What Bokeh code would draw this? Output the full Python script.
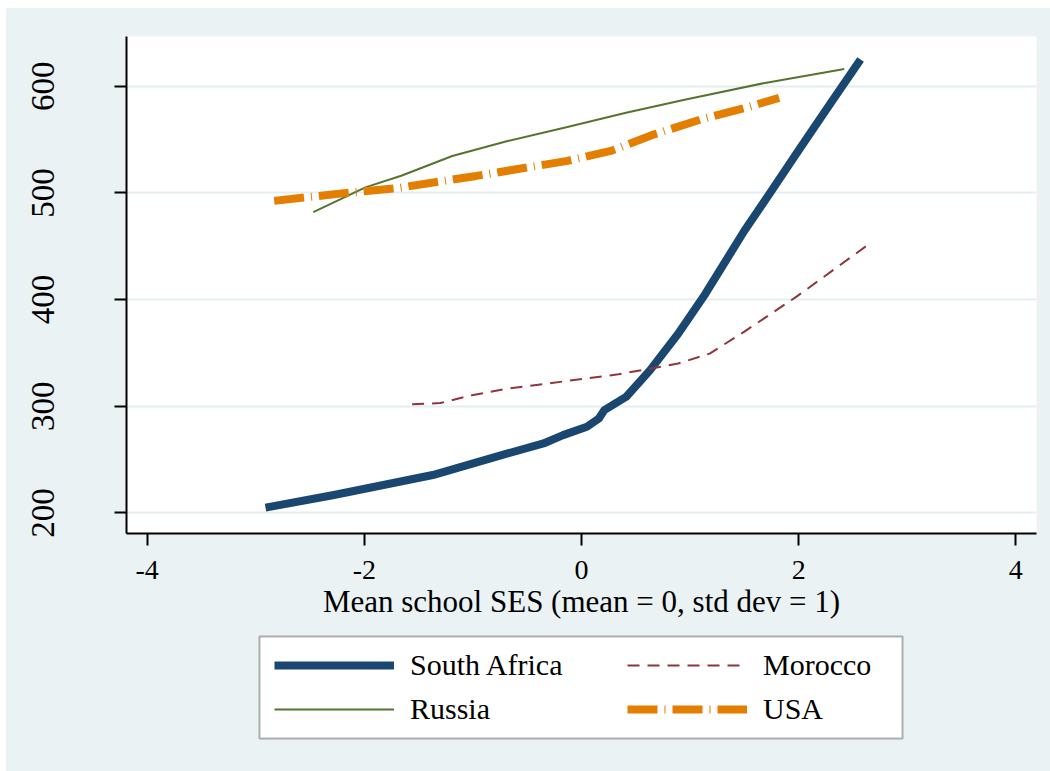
from bokeh.plotting import figure
from bokeh.layouts import column
from bokeh.models import Range1d, Legend, LegendItem, FixedTicker, BoxAnnotation
from bokeh.embed import file_html
from bokeh.resources import INLINE

# Fitted achievement curves by mean school SES
sa_x = [-2.91, -2.28, -1.37, -0.68, -0.35, -0.17, 0.05, 0.16, 0.21, 0.41, 0.63, 0.89, 1.14, 1.50, 1.75, 2.00, 2.30, 2.57]
sa_y = [205.0, 216.8, 235.5, 255.8, 265.1, 272.9, 280.7, 288.5, 296.3, 308.7, 333.6, 368.0, 405.3, 464.5, 502.0, 540.0, 585.0, 625.0]

ma_x = [-1.56, -1.30, -1.01, -0.68, -0.13, 0.34, 0.89, 1.18, 1.50, 1.98, 2.62]
ma_y = [301.9, 303.0, 310.3, 316.6, 323.7, 330.0, 340.0, 349.3, 370.0, 402.7, 450.0]

ru_x = [-2.47, -1.99, -1.66, -1.19, -0.68, -0.13, 0.41, 0.96, 1.69, 2.42]
ru_y = [481.9, 505.2, 516.1, 534.6, 548.6, 561.7, 575.1, 587.6, 603.1, 616.2]

us_x = [-2.83, -2.14, -1.70, -0.97, -0.13, 0.27, 0.67, 1.10, 1.51, 1.82]
us_y = [492.5, 500.3, 504.4, 515.9, 530.0, 539.3, 554.9, 568.9, 579.7, 589.1]

countries = ["South Africa", "Russia", "Morocco", "USA"]
x_ticks = [-4, -2, 0, 2, 4]
y_ticks = [200, 300, 400, 500, 600]

BG = "#EAF2F3"
FONT = "Liberation Serif"

STYLES = {
    "South Africa": dict(line_color="#1A476F", line_width=8, line_join="round"),
    "Morocco": dict(line_color="#90353B", line_width=2, line_dash="12 8"),
    "Russia": dict(line_color="#55752F", line_width=2, line_join="round"),
    "USA": dict(line_color="#E37E00", line_width=8, line_dash="30 7 1 7"),
}
series = {
    "South Africa": (sa_x, sa_y),
    "Morocco": (ma_x, ma_y),
    "Russia": (ru_x, ru_y),
    "USA": (us_x, us_y),
}

p = figure(
    width=1044, height=625,
    x_range=Range1d(-4.19, 4.19), y_range=Range1d(180.7, 646.6),
    output_backend="svg", toolbar_location=None,
    min_border_left=120, min_border_right=14,
    min_border_top=28, min_border_bottom=100,
)
p.background_fill_color = "white"
p.border_fill_color = BG
p.outline_line_color = None

# axes
p.xaxis.ticker = FixedTicker(ticks=x_ticks)
p.yaxis.ticker = FixedTicker(ticks=y_ticks)
for ax in (p.xaxis[0], p.yaxis[0]):
    ax.axis_line_color = "black"
    ax.axis_line_width = 2
    ax.major_tick_line_color = "black"
    ax.major_tick_line_width = 2
    ax.major_tick_in = 0
    ax.major_tick_out = 12
    ax.minor_tick_line_color = None
    ax.major_label_text_font = FONT
    ax.major_label_text_color = "black"
p.xaxis.major_label_text_font_size = "28px"
p.xaxis.major_label_standoff = 15
p.xaxis.major_label_overrides = {-4: "-4", -2: "-2", 0: "0", 2: "2", 4: "4"}
p.xaxis.axis_label = "Mean school SES (mean = 0, std dev = 1)"
p.xaxis.axis_label_text_font = FONT
p.xaxis.axis_label_text_font_size = "31px"
p.xaxis.axis_label_text_font_style = "normal"
p.xaxis.axis_label_text_color = "black"
p.xaxis.axis_label_standoff = 2
p.yaxis.major_label_text_font_size = "33px"
p.yaxis.major_label_orientation = "vertical"
p.yaxis.major_label_standoff = 60

p.xgrid.grid_line_color = None
p.ygrid.ticker = FixedTicker(ticks=y_ticks)
p.ygrid.grid_line_color = "#E4EDEF"
p.ygrid.grid_line_width = 2

for name, (xs, ys) in series.items():
    p.line(xs, ys, **STYLES[name])

# key panel below the chart; its frame lines up with the chart frame
k = figure(
    width=1044, height=138,
    x_range=Range1d(100, 101), y_range=Range1d(100, 101),
    x_axis_type=None, y_axis_type=None,
    output_backend="svg", toolbar_location=None,
    min_border_left=120, min_border_right=14,
    min_border_top=0, min_border_bottom=0,
)
k.background_fill_color = BG
k.border_fill_color = BG
k.outline_line_color = None
k.xgrid.grid_line_color = None
k.ygrid.grid_line_color = None

k.add_layout(BoxAnnotation(
    left=133, right=776, bottom=33, top=135,
    left_units="screen", right_units="screen",
    bottom_units="screen", top_units="screen",
    fill_color="white", fill_alpha=1.0,
    line_color="black", line_width=2,
))

items = []
for name in countries:
    xs, ys = series[name]
    r = k.line(xs, ys, **STYLES[name])
    items.append(LegendItem(label=name, renderers=[r]))

legend = Legend(
    items=items,
    orientation="vertical", ncols=2,
    location=(148, 45),
    glyph_width=120, glyph_height=30,
    label_height=30, label_width=207,
    label_standoff=16, padding=15, spacing=10, margin=0,
    label_text_font=FONT, label_text_font_size="30px",
    label_text_color="black",
    border_line_color=None,
    background_fill_alpha=0.0,
)
k.add_layout(legend, "center")

layout = column(p, k, spacing=0)
layout.margin = (8, 0, 0, 6)
layout.styles = {"background-color": BG}
open("out.html", "w").write(file_html(layout, INLINE))
